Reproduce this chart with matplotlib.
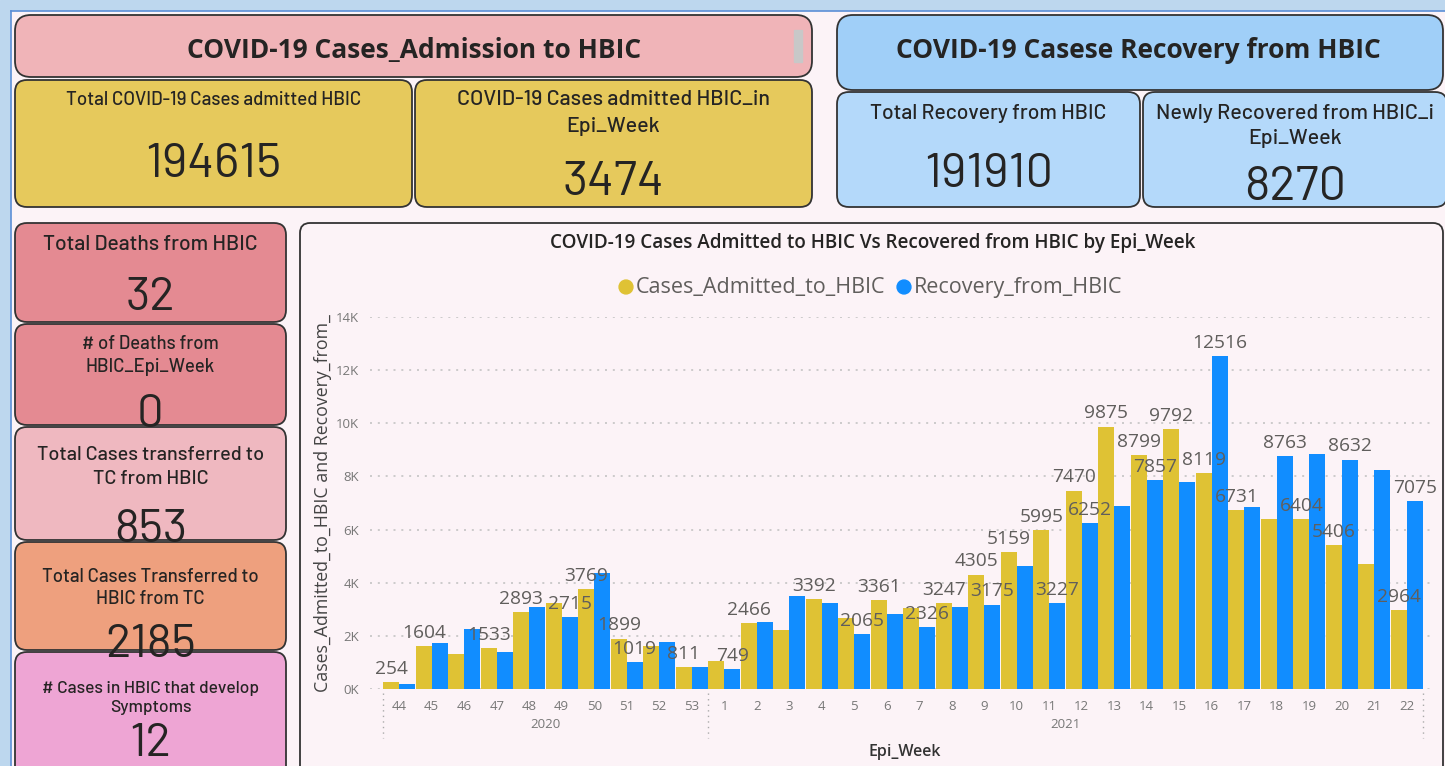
import numpy as np
import matplotlib
matplotlib.use("Agg")
import matplotlib.pyplot as plt
from matplotlib.patches import FancyBboxPatch, Rectangle

# Epi weeks (2020: 44-53, 2021: 1-22)
weeks = ['44', '45', '46', '47', '48', '49', '50', '51', '52', '53',
         '1', '2', '3', '4', '5', '6', '7', '8', '9', '10', '11',
         '12', '13', '14', '15', '16', '17', '18', '19', '20', '21', '22']
years = ['2020', '2021']
n_2020 = 10

admitted = [254, 1604, 1330, 1533, 2893, 3220, 3769, 1899, 1630, 811,
            1050, 2466, 2230, 3392, 2690, 3361, 3040, 3247, 4305, 5159, 5995,
            7470, 9875, 8799, 9792, 8119, 6731, 6380, 6404, 5406, 4700, 2964]
recovered = [190, 1730, 2260, 1400, 3080, 2715, 4350, 1019, 1780, 820,
             749, 2510, 3490, 3230, 2065, 2820, 2326, 3100, 3175, 4620, 3227,
             6252, 6900, 7857, 7800, 12516, 6850, 8763, 8850, 8632, 8250, 7075]

# data labels Power BI kept visible (others hidden by overlap)
admitted_shown = ['44', '45', '47', '48', '50', '51', '53', '2', '4', '6', '8', '9', '10',
                  '11', '12', '13', '14', '15', '16', '17', '19', '20', '22']
recovered_shown = ['49', '51', '1', '5', '7', '9', '11', '12', '14', '16', '18', '20', '22']

# KPI cards
header_left = 'COVID-19 Cases_Admission to HBIC'
header_right = 'COVID-19 Casese Recovery from HBIC'
top_titles = ['Total COVID-19 Cases admitted HBIC',
              'COVID-19 Cases admitted HBIC_in\nEpi_Week',
              'Total Recovery from HBIC',
              'Newly Recovered from HBIC_i\nEpi_Week']
top_values = ['194615', '3474', '191910', '8270']
side_titles = ['Total Deaths from HBIC',
               '# of Deaths from\nHBIC_Epi_Week',
               'Total Cases transferred to\nTC from HBIC',
               'Total Cases Transferred to\nHBIC from TC',
               '# Cases in HBIC that develop\nSymptoms']
side_values = ['32', '0', '853', '2185', '12']

YELLOW = '#dfc234'
BLUE = '#118dff'
CANVAS = '#fcf3f7'
CARD_FONT = ['Barlow', 'DejaVu Sans']
CHART_FONT = ['Open Sans', 'DejaVu Sans']

W, H = 1445, 766
fig = plt.figure(figsize=(W / 100, H / 100), dpi=100)

# overlay axes in pixel coordinates
bg = fig.add_axes([0, 0, 1, 1])
bg.set_xlim(0, W)
bg.set_ylim(H, 0)
bg.axis('off')
bg.add_patch(Rectangle((0, 0), W, H, color='#bdd7ee', zorder=0))
bg.add_patch(Rectangle((11, 11), W, H, color=CANVAS, zorder=0))
bg.plot([11, W], [11, 11], color='#5b8fd6', lw=1.2, zorder=1)
bg.plot([11, 11], [11, H], color='#5b8fd6', lw=1.2, zorder=1)


def box(x0, y0, x1, y1, color, r=12):
    bg.add_patch(FancyBboxPatch((x0, y0), x1 - x0, y1 - y0,
                                boxstyle=f'round,pad=0,rounding_size={r}',
                                fc=color, ec='#333333', lw=1.3, zorder=2))


def ctext(cx, cy, s, size, weight='normal', family=CARD_FONT):
    # centre the cap height of the text on cy
    cap = 0.70 * size * 100 / 72
    bg.text(cx, cy + cap / 2, s, ha='center', va='baseline', fontsize=size,
            fontweight=weight, color='#252423', family=family, zorder=3)


def card(x0, y0, x1, y1, color, title, value, title_ys, vy, tsize, vsize):
    box(x0, y0, x1, y1, color)
    cx = (x0 + x1) / 2
    for line, ty in zip(title.split('\n'), title_ys):
        ctext(cx, ty, line, tsize, weight='medium')
    ctext(cx, vy, value, vsize)


# headers
box(15, 15, 812, 77, '#f0b4b8', r=16)
bg.text(414, 50, header_left, ha='center', va='center', fontsize=19, fontweight='bold',
        color='#252423', family=CHART_FONT, zorder=3)
bg.add_patch(Rectangle((794, 30), 8, 32, color='#c8c8c8', zorder=3))
box(837, 15, 1443, 90, '#a0cff8', r=16)
bg.text(1138, 51, header_right, ha='center', va='center', fontsize=19, fontweight='bold',
        color='#252423', family=CHART_FONT, zorder=3)

# top cards
top_geo = [(15, 80, 412, 207, '#e6c95c', [98], 160, 13.5),
           (415, 80, 812, 207, '#e6c95c', [98, 125], 178, 15.4),
           (837, 92, 1140, 207, '#b4d9fa', [112], 170, 15.2),
           (1143, 92, 1447, 207, '#b4d9fa', [112, 137], 183, 15.4)]
for t, v, (x0, y0, x1, y1, c, tys, vy, ts) in zip(top_titles, top_values, top_geo):
    card(x0, y0, x1, y1, c, t, v, tys, vy, ts, 35)

# side cards
side_geo = [(223, 322, '#e48a92', [243], 293, 15.2),
            (324, 425, '#e48a92', [343, 366], 410, 13.3),
            (427, 540, '#efb8c0', [453, 477], 525, 14.3),
            (542, 650, '#eea07e', [575, 597], 640, 13.4),
            (652, 780, '#eea5d4', [687, 706], 739, 12.5)]
for t, v, (y0, y1, c, tys, vy, ts) in zip(side_titles, side_values, side_geo):
    card(15, y0, 286, y1, c, t, v, tys, vy, ts, 34)

# chart panel
box(300, 223, 1443, 780, CANVAS, r=10)
bg.text(873, 243, 'COVID-19 Cases Admitted to HBIC Vs Recovered from HBIC by Epi_Week',
        ha='center', va='center', fontsize=13.6, fontweight='semibold', color='#252423',
        family=CHART_FONT, zorder=3)
bg.scatter([626, 904], [287, 287], s=100, color=[YELLOW, BLUE], zorder=3)
bg.text(636, 287, 'Cases_Admitted_to_HBIC', ha='left', va='center', fontsize=15.5,
        color='#605e5c', family=CHART_FONT, zorder=3)
bg.text(914, 287, 'Recovery_from_HBIC', ha='left', va='center', fontsize=15.5,
        color='#605e5c', family=CHART_FONT, zorder=3)
bg.text(323, 503, 'Cases_Admitted_to_HBIC and Recovery_from_', rotation=90,
        ha='center', va='center', fontsize=12.8, color='#444444', family=CHART_FONT, zorder=3)
bg.text(905, 752, 'Epi_Week', ha='center', va='center', fontsize=11.5, fontweight='semibold',
        color='#333333', family=CHART_FONT, zorder=3)

# bar chart axes
px_left, px_right, px_y0, px_y14 = 370, 1435, 689, 317
cat_px = (1423 - 383) / len(weeks)
ax = fig.add_axes([px_left / W, (H - px_y0) / H, (px_right - px_left) / W, (px_y0 - px_y14) / H])
ax.set_facecolor('none')
ax.set_zorder(5)
x = np.arange(len(weeks))
bw = 0.485
ax.bar(x - bw / 2, admitted, width=bw, color=YELLOW, zorder=2)
ax.bar(x + bw / 2, recovered, width=bw, color=BLUE, zorder=2)
ax.set_xlim((px_left - 383) / cat_px - 0.5, (px_right - 383) / cat_px - 0.5)
ax.set_ylim(0, 14000)
ax.set_yticks(np.arange(0, 14001, 2000))
ax.set_yticklabels([f'{v // 1000}K' for v in range(0, 14001, 2000)])
ax.set_xticks(x)
ax.set_xticklabels(weeks)
ax.tick_params(axis='both', length=0, colors='#777777', labelsize=9.5)
ax.tick_params(axis='y', pad=8)
ax.tick_params(axis='x', pad=8)
for lab in ax.get_xticklabels() + ax.get_yticklabels():
    lab.set_family(CHART_FONT)
ax.grid(axis='y', color='#c4c4c4', linestyle=(0, (1.2, 3.5)), linewidth=1.2, zorder=0)
for s in ax.spines.values():
    s.set_visible(False)

for i, w in enumerate(weeks):
    if w in admitted_shown:
        ax.annotate(str(admitted[i]), (x[i] - bw / 2, admitted[i]), xytext=(0, 3),
                    textcoords='offset points', ha='center', va='bottom', fontsize=13.8,
                    color='#605e5c', family=CHART_FONT, zorder=4)
    if w in recovered_shown:
        ax.annotate(str(recovered[i]), (x[i] + bw / 2, recovered[i]), xytext=(0, 3),
                    textcoords='offset points', ha='center', va='bottom', fontsize=13.8,
                    color='#605e5c', family=CHART_FONT, zorder=4)

# year groups under the week labels
x_sep = [383, 383 + cat_px * n_2020, 1423]
for xs in x_sep:
    bg.plot([xs, xs], [693, 738], color='#aaaaaa', lw=1, linestyle=(0, (1, 3)), zorder=3)
bg.text((x_sep[0] + x_sep[1]) / 2, 725, years[0], ha='center', va='center', fontsize=9.5,
        color='#777777', family=CHART_FONT, zorder=3)
bg.text((x_sep[1] + x_sep[2]) / 2, 725, years[1], ha='center', va='center', fontsize=9.5,
        color='#777777', family=CHART_FONT, zorder=3)

fig.savefig('out.png', dpi=100)
